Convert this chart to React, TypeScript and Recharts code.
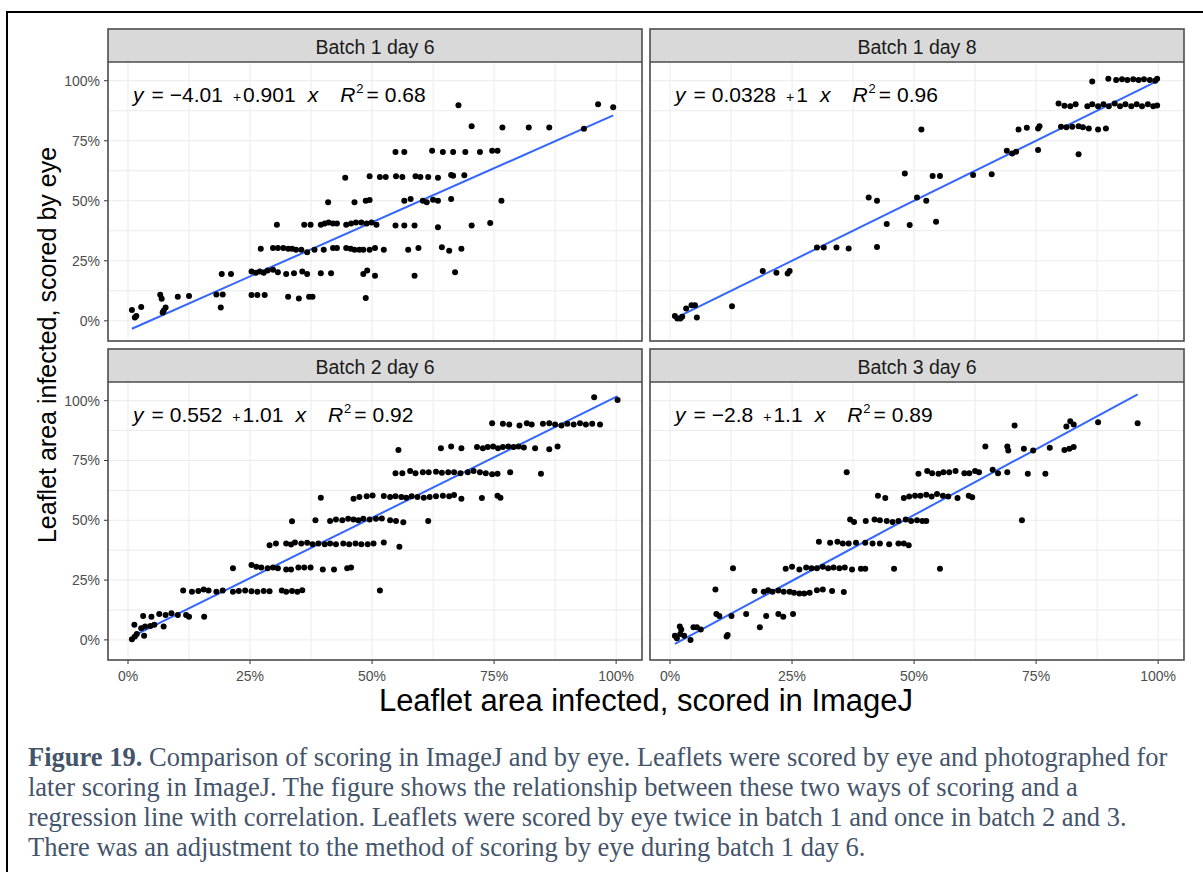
import { CartesianGrid, ComposedChart, Line, Scatter, XAxis, YAxis } from 'recharts';

type Pair = [number, number];

const facetLabels = ['Batch 1 day 6', 'Batch 1 day 8', 'Batch 2 day 6', 'Batch 3 day 6'];

// lm fit printed in each facet: y = a + b x, R^2
const fitIntercept = [-4.01, 0.0328, 0.552, -2.8];
const fitSlope = [0.901, 1, 1.01, 1.1];
const fitR2 = [0.68, 0.96, 0.92, 0.89];
// span of ImageJ scores covered by each fitted line
const fitXRange: Pair[] = [[0.8, 99.4], [1, 100], [0.8, 100.3], [1, 95.8]];

const gridTicks = [0, 12.5, 25, 37.5, 50, 62.5, 75, 87.5, 100];

// [ImageJ %, by eye %]
const batch1Day6: Pair[] = [
  [0.8, 4.5], [1.4, 1.4], [1.7, 2], [2.7, 5.8],
  [6.6, 10.9], [6.9, 9.2], [7.1, 3.5], [7.3, 4.2], [7.7, 5.6], [10.2, 10], [12.5, 10.3],
  [18.1, 11], [19.4, 11], [19, 5.6], [19.2, 19.5], [21.1, 19.5],
  [25.3, 10.8], [26.5, 10.8], [28, 10.8],
  [25.3, 20.5], [26.2, 20], [27, 20.5], [27.8, 20], [28.6, 21], [29.7, 21.3], [30.7, 20.2],
  [32.4, 19.5], [34, 19.8], [35.7, 20.5], [36.7, 19.5],
  [32.8, 10], [35, 9.3], [37.1, 10], [37.8, 10],
  [39.5, 19.8], [41.6, 19.8],
  [27.2, 30], [29.7, 30.3], [30.7, 30.3], [31.8, 30.3], [32.8, 30], [33.6, 30], [34.4, 29.6], [35.5, 29.6],
  [36.7, 28.6], [38.2, 29.6], [40.1, 29.6], [42, 30.3], [42.8, 30.3],
  [44.7, 30.3], [45.6, 30], [46.4, 29.6], [47.4, 29.6], [48.2, 29.6], [49.5, 29.6], [50.6, 30.3], [52.4, 29.6],
  [57.4, 29.6], [59.5, 30.3], [64.3, 30.6], [65.8, 29.2], [68.3, 30],
  [30.5, 40], [36.1, 40], [37.4, 40], [39.5, 40], [40.3, 40.5], [41.1, 41], [42, 40.5], [42.8, 40.5],
  [44.7, 40], [45.7, 40.5], [46.7, 41], [47.8, 41], [48.9, 40.5], [49.9, 41], [50.9, 40],
  [54.8, 39.7], [56.6, 39.7], [58.7, 39.7], [63.5, 39], [70.4, 39.7], [74.2, 40.7],
  [41, 49.4], [46.4, 49.4], [48.7, 50], [49.5, 50.3],
  [56.6, 50], [57.9, 50.7], [60.4, 50], [61.2, 49.4], [62.5, 50.4], [63.5, 50], [66.2, 50.7], [76.5, 50],
  [44.5, 59.6], [49.5, 60.2], [51.6, 59.9], [52.8, 59.9], [54.9, 60.2], [56.2, 59.9], [58.9, 60.2],
  [59.9, 59.9], [61.5, 59.9], [63.5, 59.6], [66.2, 60.7], [66.6, 60.4], [68.9, 60.6],
  [54.8, 70.3], [56.6, 70.3], [62.3, 70.8], [64.5, 70.3], [66.6, 70.3], [69.1, 70.3], [72.1, 70.3], [74.6, 70.8], [75.7, 70.8],
  [67.7, 89.8], [70.4, 81], [76.7, 80.5], [82.1, 80.5], [86.3, 80.5], [93.4, 80], [96.3, 90.2], [99.4, 89],
  [58.7, 18.8], [67, 20.2], [48.7, 9.5], [48.2, 19.5], [49, 21], [50.6, 18.8],
];

const batch1Day8: Pair[] = [
  [1, 2], [1.5, 1], [2.1, 1], [2.5, 1.7], [3.3, 5.1], [4.4, 6.5], [5.1, 6.5], [5.5, 1.4], [12.7, 6.1],
  [19, 20.8], [21.8, 20], [24.1, 19.7], [24.5, 20.8],
  [30.1, 30.5], [31.5, 30.5], [34.1, 30.5], [36.6, 30.1], [42.4, 30.8],
  [40.7, 51.4], [42.4, 50], [44.4, 40.3], [49.1, 39.9], [54.5, 41.3], [48.1, 61.4], [50.6, 51.4], [52.5, 50],
  [51.5, 79.7], [53.8, 60.3], [55.3, 60.3], [62.1, 60.7], [65.9, 61.1],
  [69, 70.8], [70.1, 69.7], [70.9, 70.4], [75.4, 71.1],
  [71.4, 79.7], [73.1, 80.4], [75.4, 80.1], [75.7, 81], [80.1, 80.8], [81.2, 80.6], [82.4, 80.8], [83.7, 81],
  [84.6, 80.6], [85.8, 80.1], [87.7, 79.7], [89.3, 80.1], [83.7, 69.4],
  [79.6, 90.5], [80.8, 89.6], [82, 89.4], [83.1, 90.2], [85.5, 89.4], [86.5, 90.2], [87.7, 89.4], [88.8, 90.2],
  [89.9, 89.4], [91.1, 90.5], [92.2, 89.4], [93.3, 90.2], [94.5, 89.4], [95.6, 90.2], [96.7, 89.4], [97.9, 90.2],
  [99, 89.4], [99.8, 89.7],
  [86.5, 99.7], [89.8, 100.8], [91.4, 100.3], [92.6, 100.6], [93.7, 100.3], [94.9, 100.6], [96, 100.3],
  [97.1, 100.6], [98.3, 100.3], [99.4, 100], [99.8, 100.8],
];

const batch2Day6: Pair[] = [
  [0.8, 0.3], [1.4, 1.4], [1.8, 2.5], [1.3, 6.3], [2.7, 4.9], [3.5, 5.6], [4.6, 5.8], [3.3, 1.7], [5.4, 6.3],
  [3.1, 10], [4.8, 9.7], [6.4, 10.8], [7.7, 10.4], [8.9, 11.1], [10.2, 10.4], [11.9, 10.4], [12.5, 9.7], [15.6, 9.7], [7.3, 5.6],
  [11.3, 20.6], [13.1, 20.1], [14.4, 20.4], [15.5, 21.1], [16.5, 20.6], [18.1, 20.1], [19.4, 20.6], [21.5, 20.1],
  [22.7, 20.4], [24, 20.6], [25.3, 20.3], [26.5, 20.1], [27.8, 20.4], [29, 20.3], [31.5, 20.6], [32.4, 20.1],
  [33.6, 20.4], [34.7, 20.1], [35.7, 20.8], [51.6, 20.6],
  [21.5, 29.9], [25.3, 31.3], [26.3, 30.6], [27.3, 30.3], [28.6, 29.9], [29.7, 30.3], [30.7, 29.9], [32.4, 29.4],
  [33.4, 29.4], [34.9, 30.3], [36.1, 30.3], [37.4, 30.3], [39.9, 29.4], [42.2, 29.4], [44.9, 29.9], [45.7, 30.3],
  [29, 39.6], [30.3, 40.3], [32.4, 40.3], [33.4, 39.9], [34.2, 40.7], [35.5, 40.3], [36.7, 40.6], [37.8, 40],
  [39, 40.3], [40.3, 40], [41.4, 40.3], [42.6, 40], [44.1, 40.3], [45.3, 40], [46.6, 40.3], [47.8, 40],
  [49.1, 40], [50.3, 40.3], [52.4, 40.7], [55.6, 38.9],
  [33.6, 49.6], [38.4, 50], [41.4, 49.7], [42.6, 50.3], [43.9, 50], [45.1, 50.6], [46.2, 50.3], [47.2, 50],
  [48.2, 50.6], [49.5, 50.3], [50.8, 50.6], [52, 50.7], [53.7, 50], [54.9, 49.7], [56.4, 49.2], [61.5, 49.7],
  [39.5, 59.4], [46.2, 59], [47.4, 59.7], [48.9, 60], [50.1, 60.4], [52.4, 60.1], [53.7, 59.7], [54.8, 60],
  [56, 59.7], [57, 59.4], [58.1, 60], [59.3, 59.7], [60.6, 59.4], [61.8, 59.7], [63.1, 60], [64.5, 60.3],
  [65.8, 60], [66.8, 60.6], [68.3, 59], [72.5, 59.3], [75.7, 60.3], [76.3, 59.4],
  [55.4, 79.4],
  [54.8, 69.7], [56.2, 69.7], [57.8, 70.6], [58.9, 69.7], [60.4, 70.1], [61.6, 70.1], [63.1, 70.3], [64.3, 69.9],
  [65.6, 70.1], [66.8, 70.1], [68.1, 69.7], [69.6, 70.1], [70.8, 70.6], [72.1, 70.1], [73.3, 69.7], [74.6, 69.2],
  [75.7, 69.4], [78.3, 70.1], [84.6, 69.4],
  [64.1, 80.1], [66.2, 80.8], [68.3, 80.1], [71.5, 80.6], [72.7, 80.1], [73.7, 80.6], [74.8, 80.8], [75.8, 80.1],
  [76.8, 80.6], [77.9, 80.8], [79, 80.6], [80, 80.8], [81.1, 80.4], [83.4, 80.1], [86.3, 79.7], [88, 80.8],
  [74.6, 90.6], [76.8, 90.3], [78.1, 90], [80.2, 89.6], [81.7, 90.6], [82.7, 90], [85, 90.3], [86.3, 90.6],
  [87.5, 90], [88.8, 89.6], [90, 90.3], [91.3, 90], [92.6, 90.6], [93.8, 90], [95.1, 90.3], [96.7, 90],
  [95.5, 101.4], [100.3, 100.3],
];

const batch3Day6: Pair[] = [
  [1, 1.7], [1.4, 0.7], [2, 5.6], [2.1, 2.5], [2.3, 4.4], [2.9, 1.7], [4.2, 0], [4.8, 5.3], [5.5, 5.3], [6.3, 4.4],
  [9.3, 21.1], [9.5, 10.8], [10.1, 10], [11.6, 1.4], [11.8, 2.1], [12.6, 10], [12.9, 29.9], [15.6, 10.8],
  [18.4, 5.3], [19.7, 10], [22.2, 10.8], [23.2, 9.7], [25.2, 10.8],
  [17.3, 20.4], [19.2, 20.1], [20.1, 20.8], [21, 20.1], [22.2, 20.6], [23.3, 20.1], [24.5, 20.1], [25.4, 19.7],
  [26.5, 19.4], [27.5, 19.4], [28.6, 19.7], [30.1, 20.8], [31.3, 21.1], [33.2, 20.4], [35.6, 20],
  [23.7, 29.7], [25, 30.6], [26.5, 29.4], [27.9, 30.3], [29, 30], [30.1, 30], [31.3, 30.6], [32.4, 29.9],
  [33.5, 30.3], [34.7, 29.9], [35.8, 30.3], [37.3, 29.4], [39.1, 29.7], [40, 29.7], [45.9, 29.7], [55.3, 29.7],
  [30.5, 41], [32.8, 40.6], [34.3, 41], [35.4, 40.3], [36.6, 40.3], [38.1, 40.6], [40, 40.6], [41.5, 40.3],
  [43, 40.3], [44.9, 40], [46.8, 40.3], [47.9, 40.3], [48.9, 39.6],
  [36.9, 50.3], [37.7, 49.3], [40.1, 49.7], [41.9, 50.3], [43, 50], [44.4, 49.7], [45.6, 49.3], [46.8, 49.7],
  [48.3, 50.3], [49.4, 49.7], [50.6, 50], [51.7, 49.7], [52.5, 49.7], [72.1, 50],
  [42.6, 60.3], [44.1, 59.3], [47.9, 59.3], [49, 59.9], [50.2, 60.3], [51.3, 60.3], [52.5, 60.7], [53.6, 59.9],
  [54.7, 61], [55.9, 60.3], [57, 59.9], [58.9, 59.3], [61.2, 60.3], [61.9, 59.6],
  [36.2, 70.1],
  [50.9, 69.4], [52.7, 70.6], [53.7, 69.7], [55, 69.4], [56, 70.1], [57.2, 70.1], [58.5, 70.6], [60.3, 69.7],
  [61.3, 69.7], [62.5, 70.6], [63.3, 70.1], [66.1, 71.1], [67.2, 69.7], [69.1, 70.1], [73.3, 69.4], [76.9, 69.4],
  [64.6, 80.8], [69.1, 80.8], [69.3, 79.2], [72.5, 79.9], [74.4, 79.2], [77.8, 80.3], [80.8, 79.4], [81.8, 79.9], [82.7, 80.6],
  [70.6, 89.6], [81.2, 89.2], [82, 91.4], [82.7, 90], [87.7, 91], [95.8, 90.6],
];

const panelPoints = [batch1Day6, batch1Day8, batch2Day6, batch3Day6];

// facet layout (page pixels)
const colLeft = [108, 650];
const rowTop = [62, 382];
const rowHeight = [279, 278];
const STRIP_H = 33;
const PANEL_W = 534;
const Y_AXIS_W = 60;
const X_AXIS_H = 30;
const X_DOMAIN: [number, number] = [-4.1, 105.3];
const Y_DOMAIN: [number, number] = [-8.4, 107.8];

const SANS = '"Liberation Sans", Arial, sans-serif';
const SERIF = '"Liberation Serif", "Times New Roman", serif';

const fmt = (v: number) => (v < 0 ? `\u2212${Math.abs(v)}` : `${v}`);

function renderXTick(props: any, show: boolean) {
  const { x, y, payload } = props;
  if (!show || payload.value % 25 !== 0) return <g />;
  return (
    <g>
      <line x1={x} x2={x} y1={y} y2={y + 4} stroke='#333' />
      <text x={x} y={y + 21} textAnchor='middle' fontSize={14} fontFamily={SANS} fill='#4d4d4d'>
        {`${payload.value}%`}
      </text>
    </g>
  );
}

function renderYTick(props: any, show: boolean) {
  const { x, y, payload } = props;
  if (!show || payload.value % 25 !== 0) return <g />;
  return (
    <g>
      <line x1={x - 4} x2={x} y1={y} y2={y} stroke='#333' />
      <text x={x - 8} y={y + 5} textAnchor='end' fontSize={14} fontFamily={SANS} fill='#4d4d4d'>
        {`${payload.value}%`}
      </text>
    </g>
  );
}

function Dot(props: any) {
  return <circle cx={props.cx} cy={props.cy} r={3} fill='#000' />;
}

function Panel({ idx }: { idx: number }) {
  const col = idx % 2;
  const row = Math.floor(idx / 2);
  const showX = row === 1;
  const showY = col === 0;
  const [x0, x1] = fitXRange[idx];
  const fitLine = [
    { x: x0, y: fitIntercept[idx] + fitSlope[idx] * x0 },
    { x: x1, y: fitIntercept[idx] + fitSlope[idx] * x1 }
  ];
  const pts = panelPoints[idx].map(([x, y]) => ({ x, y }));

  return (
    <div style={{ position: 'absolute', left: colLeft[col] - Y_AXIS_W, top: rowTop[row] }}>
      <ComposedChart
        width={PANEL_W + Y_AXIS_W}
        height={rowHeight[row] + X_AXIS_H}
        margin={{ top: 0, right: 0, bottom: 0, left: 0 }}
      >
        <CartesianGrid stroke='#ebebeb' />
        <XAxis
          allowDataOverflow
          axisLine={false}
          dataKey='x'
          domain={X_DOMAIN}
          height={X_AXIS_H}
          interval={0}
          tick={(p: any) => renderXTick(p, showX)}
          tickLine={false}
          tickMargin={0}
          tickSize={0}
          ticks={gridTicks}
          type='number'
        />
        <YAxis
          allowDataOverflow
          axisLine={false}
          dataKey='y'
          domain={Y_DOMAIN}
          interval={0}
          tick={(p: any) => renderYTick(p, showY)}
          tickLine={false}
          tickMargin={0}
          tickSize={0}
          ticks={gridTicks}
          type='number'
          width={Y_AXIS_W}
        />
        <Scatter data={pts} fill='#000' isAnimationActive={false} shape={Dot} />
        <Line
          data={fitLine}
          dataKey='y'
          dot={false}
          isAnimationActive={false}
          stroke='#3366ff'
          strokeWidth={2}
          type='linear'
        />
      </ComposedChart>
    </div>
  );
}

function FacetFrame({ idx }: { idx: number }) {
  const col = idx % 2;
  const row = Math.floor(idx / 2);
  const left = colLeft[col];
  const top = rowTop[row];
  const stripTop = top - STRIP_H;
  const bottom = top + rowHeight[row];
  const eqY = top + 39.5;
  const eqX = left + 25;
  return (
    <g>
      <rect x={left} y={stripTop} width={PANEL_W} height={STRIP_H} fill='#d9d9d9' />
      <rect x={left} y={stripTop} width={PANEL_W} height={bottom - stripTop} fill='none' stroke='#4d4d4d' strokeWidth={1.6} />
      <line x1={left} x2={left + PANEL_W} y1={top} y2={top} stroke='#4d4d4d' strokeWidth={1.6} />
      <text x={left + PANEL_W / 2} y={stripTop + 25} textAnchor='middle' fontSize={19.5} fill='#1a1a1a'>
        {facetLabels[idx]}
      </text>
      <text x={eqX} y={eqY} fontSize={21} fill='#000'>
        <tspan fontStyle='italic'>y</tspan>
        <tspan dx={8}>=</tspan>
        <tspan dx={6}>{fmt(fitIntercept[idx])}</tspan>
        <tspan dx={10} fontSize={14}>+</tspan>
        <tspan dx={2}>{fmt(fitSlope[idx])}</tspan>
        <tspan dx={12} fontStyle='italic'>x</tspan>
        <tspan dx={22} fontStyle='italic'>R</tspan>
        <tspan dx={1} dy={-9} fontSize={13}>2</tspan>
        <tspan dx={3} dy={9}>=</tspan>
        <tspan dx={6}>{fitR2[idx].toFixed(2)}</tspan>
      </text>
    </g>
  );
}

const captionLines = [
  ' Comparison of scoring in ImageJ and by eye. Leaflets were scored by eye and photographed for',
  'later scoring in ImageJ. The figure shows the relationship between these two ways of scoring and a',
  'regression line with correlation. Leaflets were scored by eye twice in batch 1 and once in batch 2 and 3.',
  'There was an adjustment to the method of scoring by eye during batch 1 day 6.'
];

export default function App() {
  return (
    <div
      style={{
        position: 'absolute',
        left: 0,
        top: 0,
        width: 1203,
        height: 872,
        overflow: 'hidden',
        background: '#fff',
        fontFamily: SANS
      }}
    >
      {[0, 1, 2, 3].map(i => (
        <Panel idx={i} key={`panel-${i}`} />
      ))}

      <svg
        width={1203}
        height={872}
        style={{ position: 'absolute', left: 0, top: 0, pointerEvents: 'none' }}
        fontFamily={SANS}
      >
        <path d='M7 872 V12 H1203' fill='none' stroke='#000' strokeWidth={2} />
        {[0, 1, 2, 3].map(i => (
          <FacetFrame idx={i} key={`frame-${i}`} />
        ))}

        {/* axis titles */}
        <text transform='translate(56, 345) rotate(-90)' textAnchor='middle' fontSize={25} fill='#000'>
          Leaflet area infected, scored by eye
        </text>
        <text x={646} y={711} textAnchor='middle' fontSize={31} fill='#000'>
          Leaflet area infected, scored in ImageJ
        </text>

        {/* figure caption */}
        <g fontFamily={SERIF} fontSize={26.5} fill='#44546a'>
          <text x={28} y={766}>
            <tspan fontWeight='bold'>Figure 19.</tspan>
            <tspan xmlSpace='preserve'>{captionLines[0]}</tspan>
          </text>
          {captionLines.slice(1).map((line, i) => (
            <text key={`cap-${i}`} x={28} y={796 + i * 30}>
              {line}
            </text>
          ))}
        </g>
      </svg>
    </div>
  );
}
